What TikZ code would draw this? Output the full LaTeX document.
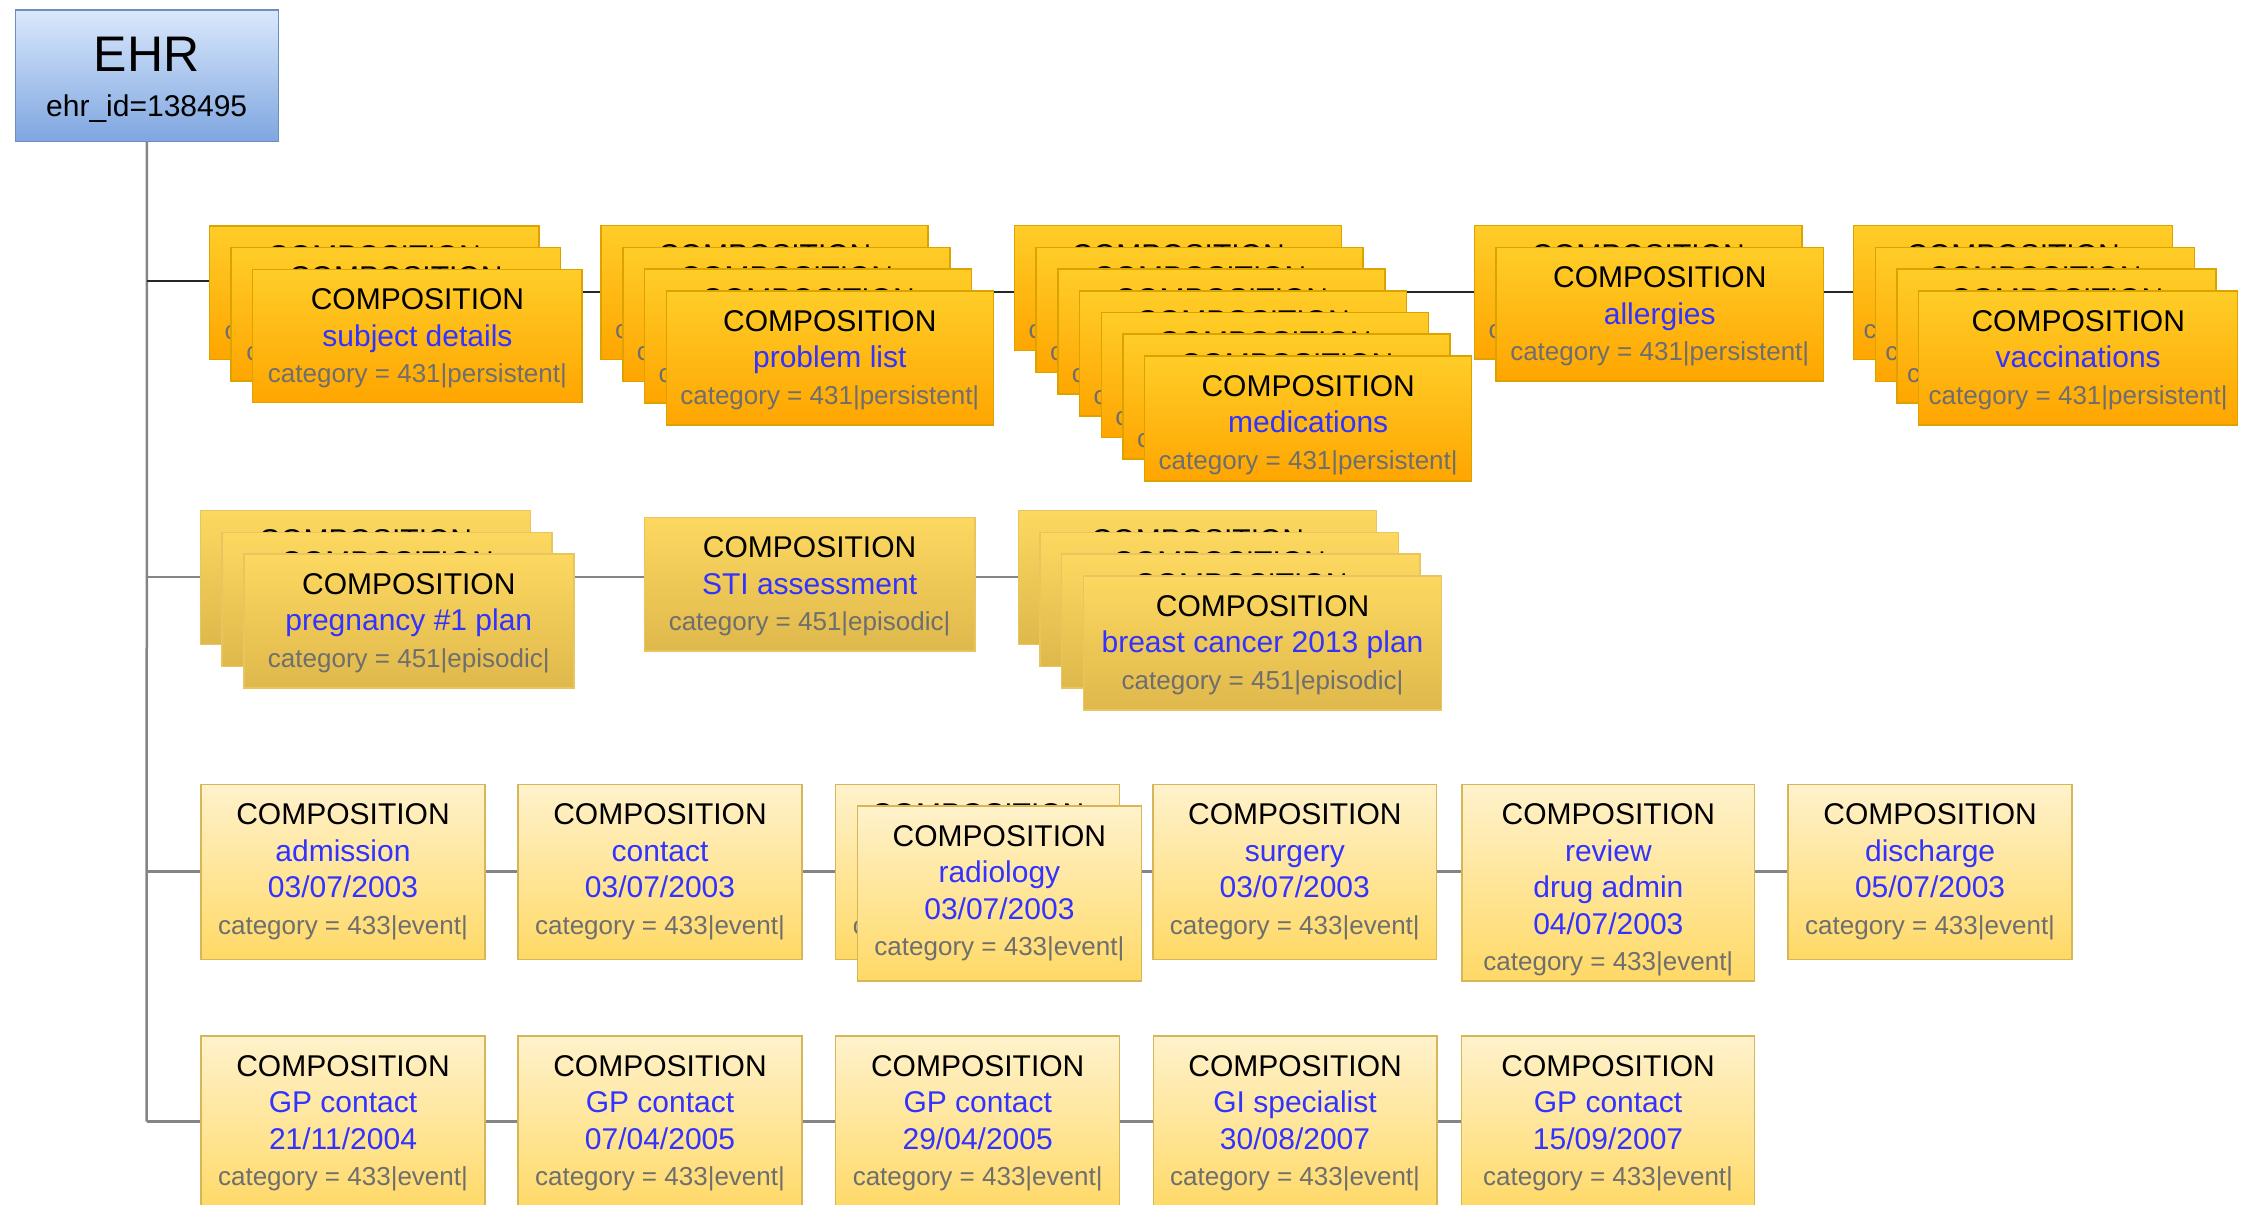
\documentclass[tikz,border=0pt]{standalone}
\usepackage{fontspec}
\setmainfont{Liberation Sans}
\usetikzlibrary{backgrounds}

% palette
\definecolor{ehrtop}{HTML}{DAE8FC}
\definecolor{ehrbot}{HTML}{7EA6E0}
\definecolor{ehredge}{HTML}{6C8EBF}
\definecolor{orgtop}{HTML}{FFCD28}
\definecolor{orgbot}{HTML}{FFA500}
\definecolor{orgedge}{HTML}{DBA200}
\definecolor{goldtop}{HTML}{FDD860}
\definecolor{goldbot}{HTML}{DFB84C}
\definecolor{goldedge}{HTML}{E8C55E}
\definecolor{paletop}{HTML}{FFF2CC}
\definecolor{palebot}{HTML}{FFD966}
\definecolor{paleedge}{HTML}{D6B656}
\definecolor{cblue}{HTML}{3333FF}
\definecolor{cgrey}{HTML}{6E6E6E}
\definecolor{trunkgrey}{HTML}{858585}
\definecolor{rowdark}{HTML}{262626}

% text helpers
\newcommand\bl[1]{\textcolor{cblue}{#1}}
\newcommand\blhide[1]{\mbox{}}
\newcommand\catline[1]{{\fontsize{26}{36.5}\selectfont\color{cgrey}category = #1}}

\tikzset{
  persist/.style={draw=orgedge, top color=orgtop, bottom color=orgbot},
  episode/.style={draw=goldedge, top color=goldtop, bottom color=goldbot},
  eventbox/.style={draw=paleedge, top color=paletop, bottom color=palebot},
  card/.style={line width=1.5pt, inner sep=0pt, outer sep=0pt, anchor=north west},
  cardtext/.style={anchor=north, inner sep=0pt, align=center,
                   font=\fontsize{30}{36.5}\selectfont},
  trunkline/.style={draw=trunkgrey, line width=2.5pt},
  firstrow/.style={draw=rowdark, line width=2.2pt},
}

% a pile of COMPOSITION cards; only the front card shows its blue lines
% #1 name, #2 count, #3 x, #4 y (back card, north west), #5 width, #6 height,
% #7 style, #8 blue lines, #9 category code
\newcommand\compstack[9]{%
  \pgfmathtruncatemacro\lastcard{#2-1}%
  \foreach \k in {0,...,\lastcard}{%
    \ifnum\k<\lastcard\relax\let\bl\blhide\fi
    \node[card,#7,minimum width=#5pt,minimum height=#6pt] (#1\k)
      at ({#3+21.7*\k},{#4+21.7*\k}) {};
    \node[cardtext] (#1t\k) at (#1\k.north)
      {\rule{0pt}{40pt}COMPOSITION\\#8\\\catline{#9}};
  }%
}

\begin{document}
\begin{tikzpicture}[x=1pt,y=-1pt]
\useasboundingbox (0,0) rectangle (2244,1205);

% EHR root
\node[card, draw=ehredge, top color=ehrtop, bottom color=ehrbot,
      minimum width=263pt, minimum height=131.7pt] (ehr) at (15.3,10) {};
\node[anchor=base, inner sep=0pt, font=\fontsize{50}{50}\selectfont] (ehrname) at (146.7,71) {EHR};
\node[anchor=base, inner sep=0pt, font=\fontsize{30}{30}\selectfont] (ehrid) at (146.7,116) {ehr\_id=138495};

% persistent compositions
\compstack{a}{3}{209.3}{226}{329.5}{133.3}{persist}{\bl{subject details}}{431|persistent|}
\compstack{b}{4}{601.2}{225.7}{327}{134}{persist}{\bl{problem list}}{431|persistent|}
\compstack{c}{7}{1014.5}{225.7}{327}{125}{persist}{\bl{medications}}{431|persistent|}
\compstack{d}{2}{1474.3}{225.7}{327.5}{133.5}{persist}{\bl{allergies}}{431|persistent|}
\compstack{e}{4}{1853.6}{225.7}{319}{134}{persist}{\bl{vaccinations}}{431|persistent|}

% episodic compositions
\compstack{f}{3}{200.4}{510.7}{330}{134}{episode}{\bl{pregnancy \#1 plan}}{451|episodic|}
\compstack{g}{1}{644.3}{517.3}{330.6}{133.7}{episode}{\bl{STI assessment}}{451|episodic|}
\compstack{h}{4}{1018.3}{510.7}{358.3}{134}{episode}{\bl{breast cancer 2013 plan}}{451|episodic|}

% event compositions, first episode
\compstack{i}{1}{201}{784.3}{284}{175}{eventbox}{\bl{admission}\\\bl{03/07/2003}}{433|event|}
\compstack{j}{1}{518}{784.3}{284}{175}{eventbox}{\bl{contact}\\\bl{03/07/2003}}{433|event|}
\compstack{k}{2}{835.7}{784.3}{284}{175}{eventbox}{\bl{radiology}\\\bl{03/07/2003}}{433|event|}
\compstack{l}{1}{1153}{784.3}{283.6}{175}{eventbox}{\bl{surgery}\\\bl{03/07/2003}}{433|event|}
\compstack{m}{1}{1462}{784.3}{292.7}{196.7}{eventbox}{\bl{review}\\\bl{drug admin}\\\bl{04/07/2003}}{433|event|}
\compstack{n}{1}{1788}{784.3}{284.2}{175}{eventbox}{\bl{discharge}\\\bl{05/07/2003}}{433|event|}

% event compositions, GP contacts
\compstack{o}{1}{201}{1036}{284}{175}{eventbox}{\bl{GP contact}\\\bl{21/11/2004}}{433|event|}
\compstack{p}{1}{518}{1036}{284}{175}{eventbox}{\bl{GP contact}\\\bl{07/04/2005}}{433|event|}
\compstack{q}{1}{835.7}{1036}{284}{175}{eventbox}{\bl{GP contact}\\\bl{29/04/2005}}{433|event|}
\compstack{r}{1}{1153.3}{1036}{283.5}{175}{eventbox}{\bl{GI specialist}\\\bl{30/08/2007}}{433|event|}
\compstack{s}{1}{1461.7}{1036}{292.7}{175}{eventbox}{\bl{GP contact}\\\bl{15/09/2007}}{433|event|}

% junctions on the trunk
\coordinate (j1) at (146.7,280.7);
\coordinate (l1) at (146.7,292.3);
\coordinate (j2) at (146.7,577);
\coordinate (j3) at (146.7,871.7);
\coordinate (j4) at (146.7,1121.7);

\begin{scope}[on background layer]
  \draw[trunkline] (ehr.south) -- (j4);
  % first row
  \draw[firstrow] (j1) -- (j1 -| a0.west);
  \draw[firstrow] (a2.east |- l1) -- (b0.west |- l1);
  \draw[firstrow] (b3.east |- l1) -- (c0.west |- l1);
  \draw[firstrow] (c3.east |- l1) -- (d0.west |- l1);
  \draw[firstrow] (d1.east |- l1) -- (e0.west |- l1);
  % second row
  \draw[trunkline] (j2) -- (j2 -| f0.west);
  \draw[trunkline] (f2.east |- j2) -- (g0.west |- j2);
  \draw[trunkline] (g0.east |- j2) -- (h0.west |- j2);
  % third row
  \draw[trunkline] (j3) -- (j3 -| i0.west);
  \draw[trunkline] (i0.east |- j3) -- (j0.west |- j3);
  \draw[trunkline] (j0.east |- j3) -- (k0.west |- j3);
  \draw[trunkline] (k1.east |- j3) -- (l0.west |- j3);
  \draw[trunkline] (l0.east |- j3) -- (m0.west |- j3);
  \draw[trunkline] (m0.east |- j3) -- (n0.west |- j3);
  % fourth row
  \draw[trunkline] (j4) -- (j4 -| o0.west);
  \draw[trunkline] (o0.east |- j4) -- (p0.west |- j4);
  \draw[trunkline] (p0.east |- j4) -- (q0.west |- j4);
  \draw[trunkline] (q0.east |- j4) -- (r0.west |- j4);
  \draw[trunkline] (r0.east |- j4) -- (s0.west |- j4);
\end{scope}
\end{tikzpicture}
\end{document}
